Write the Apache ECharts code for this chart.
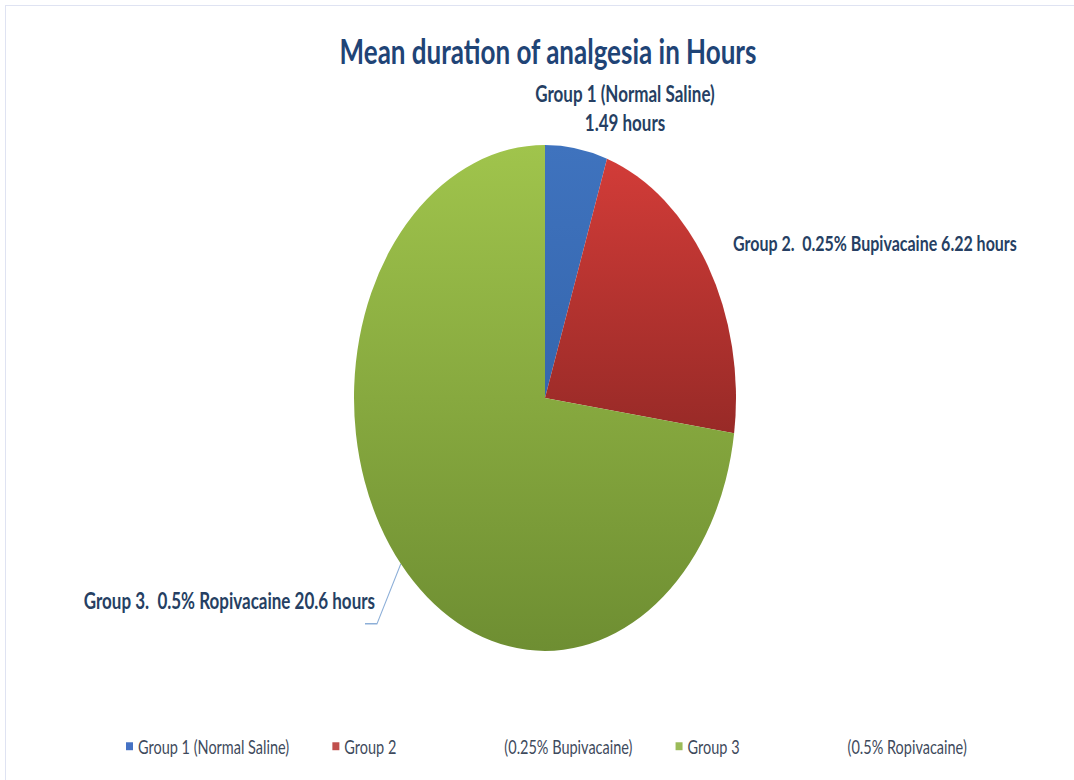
<!DOCTYPE html>
<html>
<head>
<meta charset="utf-8">
<script src="https://cdn.jsdelivr.net/npm/echarts@6/dist/echarts.min.js"></script>
<style>
  html, body { margin: 0; padding: 0; background: #ffffff; overflow: hidden; }
  #frame { position: absolute; left: 5px; top: 5px; width: 1100px; height: 800px;
           border-left: 1px solid #dfe3f2; border-top: 1px solid #dfe3f2; }
  #chart { position: absolute; left: 0; top: 0; width: 1074px; height: 589px;
           transform: scaleY(1.3243); transform-origin: 0 0; }
</style>
</head>
<body>
<div id="frame"></div>
<div id="chart"></div>
<script>
// ---- data ----
const titleText = 'Mean duration of analgesia in Hours';
const categories = ['Group 1 (Normal Saline)', 'Group 2 (0.25% Bupivacaine)', 'Group 3 (0.5% Ropivacaine)'];
const hours = [1.49, 6.22, 20.6];
const sliceLabels = [
  'Group 1 (Normal Saline)\n1.49 hours',
  'Group 2.  0.25% Bupivacaine 6.22 hours',
  'Group 3.  0.5% Ropivacaine 20.6 hours'
];

// ---- styles ----
const topColors = ['#3F73BE', '#D23C38', '#A0C44C'];
const bottomColors = ['#3566AE', '#982A27', '#6E8E32'];
const flatColors = ['#4572C4', '#C0504D', '#9BBB59'];
const labelColor = '#263F63';
const labelSizes = [17, 16, 17];
const fontFam = 'Lato, "Open Sans", sans-serif';

const chart = echarts.init(document.getElementById('chart'), null, { renderer: 'svg' });

const seriesData = categories.map((c, i) => ({
  name: c,
  value: hours[i],
  itemStyle: {
    color: new echarts.graphic.LinearGradient(0, 0, 0, 1, [
      { offset: 0, color: topColors[i] },
      { offset: 1, color: bottomColors[i] }
    ])
  },
  label: { formatter: sliceLabels[i], fontSize: labelSizes[i] },
  labelLine: { show: i === 2 }
}));

// label anchor positions (chart coordinates, before vertical stretch)
const labelPos = [
  { x: 625, y: 81, align: 'center', verticalAlign: 'middle' },
  { x: 733, y: 183.5, align: 'left', verticalAlign: 'middle' },
  { x: 375, y: 453, align: 'right', verticalAlign: 'middle' }
];

const legendRich = {
  c: { fontFamily: fontFam, fontSize: 14.5, color: '#3E4A5C', width: 163 },
  a: { fontFamily: fontFam, fontSize: 14.5, color: '#3E4A5C', width: 160 },
  b: { fontFamily: fontFam, fontSize: 14.5, color: '#3E4A5C' }
};

chart.setOption({
  backgroundColor: 'transparent',
  animation: false,
  title: {
    text: titleText,
    left: 543,
    textAlign: 'center',
    top: 20,
    textStyle: { fontFamily: fontFam, fontWeight: 'bold', fontSize: 26, color: '#1F4476' }
  },
  legend: {
    left: 121,
    top: 551,
    icon: 'rect',
    itemWidth: 7,
    itemHeight: 6,
    itemGap: 43,
    selectedMode: false,
    data: categories.map((c, i) => ({ name: c, itemStyle: { color: flatColors[i] } })),
    formatter: function (name) {
      const m = name.match(/^(Group \d)\s+(.*)$/);
      if (!m) return name;
      if (m[1] === 'Group 1') return '{c|' + name + '}';
      return '{a|' + m[1] + '}{b|' + m[2] + '}';
    },
    textStyle: { fontFamily: fontFam, fontSize: 14.5, color: '#3E4A5C', rich: legendRich }
  },
  series: [{
    type: 'pie',
    center: [545, 300.5],
    radius: 191,
    startAngle: 90,
    clockwise: true,
    data: seriesData,
    label: {
      show: true,
      position: 'outside',
      fontFamily: fontFam,
      fontWeight: 'bold',
      fontSize: 16,
      lineHeight: 22,
      color: labelColor
    },
    labelLine: { show: false, lineStyle: { color: '#8DAFD8', width: 1 } },
    labelLayout: function (params) {
      const p = labelPos[params.dataIndex];
      const out = { x: p.x, y: p.y, align: p.align, verticalAlign: p.verticalAlign };
      if (params.dataIndex === 2 && params.labelLinePoints) {
        const start = params.labelLinePoints[0];
        const ly = p.y + 18;
        out.labelLinePoints = [start, [p.x + 2, ly], [p.x - 10, ly]];
      }
      return out;
    },
    emphasis: { disabled: true }
  }]
});
</script>
</body>
</html>
